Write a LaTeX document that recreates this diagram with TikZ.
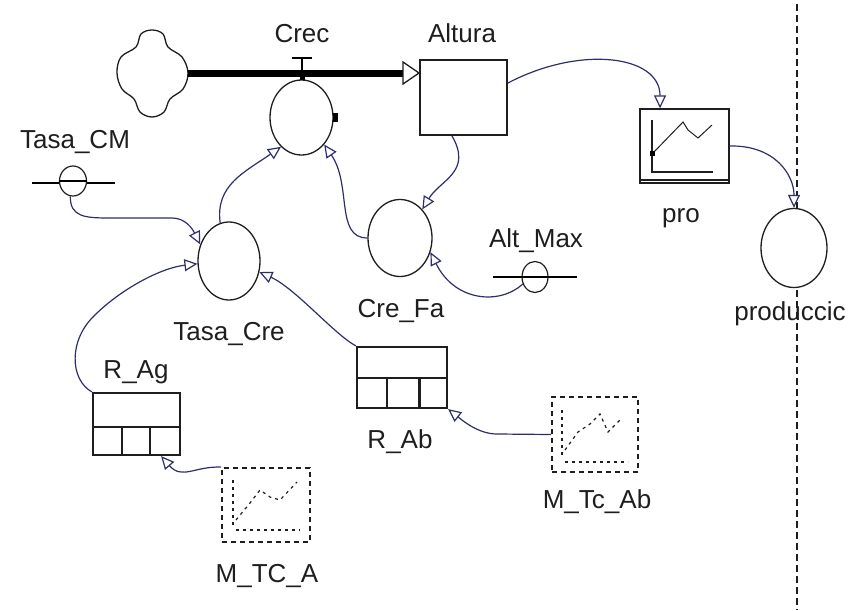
\documentclass[tikz,border=0pt]{standalone}
\usepackage{fontspec}
\setmainfont{Liberation Sans}
\usetikzlibrary{arrows.meta,shapes.geometric,calc}
\definecolor{navy}{HTML}{2E2E6E}
\definecolor{ink}{HTML}{1E1E1E}
\newcommand\labfont{\fontsize{26}{28}\selectfont}
\tikzset{
  lab/.style={font=\labfont, anchor=base, inner sep=0pt, text=ink},
  aux/.style={ellipse, draw=ink, line width=1.3pt, fill=white, inner sep=0pt},
  ghost/.style={ellipse, draw=ink, line width=1.2pt, fill=white, inner sep=0pt, minimum width=26pt, minimum height=31pt},
  stockbox/.style={rectangle, draw=ink, line width=1.3pt, fill=white, inner sep=0pt},
  tablebox/.style={rectangle, draw=ink, line width=2.2pt, fill=white, inner sep=0pt},
  graphbox/.style={rectangle, draw=ink, line width=1.8pt, fill=white, inner sep=0pt, dash pattern=on 5pt off 4pt},
  conn/.style={draw=navy, line width=1.2pt, -{Triangle[open,length=13pt,width=12pt,fill=white]}},
  inner/.style={draw=ink, line width=1.2pt, dash pattern=on 3pt off 4pt}
}
\begin{document}
\begin{tikzpicture}[x=1pt,y=-1pt]
\useasboundingbox (0,0) rectangle (848,610);
\fill[white] (0,0) rectangle (848,610);

% dotted vertical separator
\draw[ink, line width=2pt, dash pattern=on 7pt off 4pt] (797,4) -- (797,610);

% cloud (source)
\draw[ink, line width=1.3pt, fill=white] plot[smooth cycle, tension=0.6] coordinates {
 (152,30) (163,34) (168,47) (182,57) (188,73) (183,89) (170,99) (164,112) (152,117)
 (140,112) (134,99) (122,89) (117,73) (121,57) (136,47) (141,34)};
\coordinate (cloudR) at (188,73);

% stock Altura
\node[stockbox, minimum width=87pt, minimum height=75pt] (altura) at (463.5,97.5) {};

% flow pipe
\draw[black, line width=7pt] (cloudR) -- (403,73);
\draw[ink, line width=1.3pt, fill=white] (403,62) -- (419,73) -- (403,84) -- cycle;

% Crec converter with valve
\node[aux, minimum width=63pt, minimum height=75pt] (crec) at (301.5,117.5) {};
\draw[black, line width=1.6pt] (292,58) -- (312,58);
\draw[black, line width=1.6pt] (302,58) -- (302,73);
\draw[black, line width=5pt] (302,73) -- (302,80);
\fill[black] (333,113) rectangle (338,122);

% other converters
\node[aux, minimum width=62pt, minimum height=78pt] (tasacre) at (229,261) {};
\node[aux, minimum width=64pt, minimum height=77pt] (crefa) at (400,238) {};

% ghost symbols
\draw[black, line width=2.2pt] (32,183) -- (115,183);
\node[ghost, minimum width=27pt, minimum height=30pt] (tasacm) at (73,181) {};
\draw[black, line width=2.2pt] (tasacm.west) -- (tasacm.east);
\draw[black, line width=2.2pt] (493,277) -- (577,277);
\node[ghost] (altmax) at (535,277) {};
\draw[black, line width=2.2pt] (altmax.west) -- (altmax.east);

% graph pro
\node[stockbox, minimum width=89pt, minimum height=74pt] (pro) at (684.5,146) {};
\draw[ink, line width=1.3pt] (640,180) -- (729,180);
\draw[ink, line width=2.2pt] (652,120) -- (652,172) -- (713,172);
\draw[ink, line width=1pt] (653,153) -- (683,122) -- (688,130) -- (698,138) -- (712,125);
\fill[black] (650,151) rectangle (655,156);

% produccio
\node[aux, minimum width=66pt, minimum height=79pt] (prod) at (794,248) {};

% tables
\node[tablebox, minimum width=87pt, minimum height=62pt] (rag) at (136.5,424) {};
\draw[ink, line width=2.2pt] ($(rag.north west)!0.55!(rag.south west)$) -- ($(rag.north east)!0.55!(rag.south east)$);
\draw[ink, line width=2.2pt] ($(rag.south west)!0.333!(rag.south east)$) -- ++(0,-28);
\draw[ink, line width=2.2pt] ($(rag.south west)!0.655!(rag.south east)$) -- ++(0,-28);

\node[tablebox, minimum width=90pt, minimum height=61pt] (rab) at (402,377.5) {};
\draw[ink, line width=2.2pt] ($(rab.north west)!0.51!(rab.south west)$) -- ($(rab.north east)!0.51!(rab.south east)$);
\draw[ink, line width=2.2pt] ($(rab.south west)!0.333!(rab.south east)$) -- ++(0,-30);
\draw[ink, line width=2.2pt] ($(rab.south west)!0.69!(rab.south east)$) -- ++(0,-30);

% dashed graph boxes
\node[graphbox, minimum width=88pt, minimum height=74pt] (mtca) at (266,505) {};
\draw[inner] (233,480) -- (233,525);
\draw[inner] (236,530) -- (300,530);
\draw[inner] (236,520) -- (250,503) -- (260,490) -- (270,497) -- (280,500) -- (297,482);

\node[graphbox, minimum width=86pt, minimum height=75pt] (mtcab) at (595,434.5) {};
\draw[inner] (562,410) -- (562,455);
\draw[inner] (565,462) -- (628,462);
\draw[inner] (565,450) -- (578,432) -- (590,424) -- (600,414) -- (608,432) -- (622,418);

% connectors
\draw[conn] (altura.-107) .. controls (473,172) and (440,180) .. (crefa.52);
\draw[conn] (altura.18) .. controls (580,45) and (660,55) .. (pro.123);
\draw[conn] (pro.east) .. controls (775,145) and (794,175) .. (prod.north);
\draw[conn] (altmax.210) .. controls (500,305) and (455,302) .. (crefa.-25);
\draw[conn] (crefa.west) .. controls (335,238) and (352,185) .. (crec.-50);
\draw[conn] (tasacre.103) .. controls (215,185) and (245,172) .. (crec.-125);
\draw[conn] (tasacm.-100) .. controls (70,217) and (85,218) .. (110,218) -- (172,218) .. controls (185,218) and (192,228) .. (tasacre.150);
\draw[conn] (rag.north west) .. controls (70,380) and (68,340) .. (95,315) .. controls (120,290) and (160,268) .. (tasacre.185);
\draw[conn] (rab.north west) .. controls (335,335) and (295,288) .. (tasacre.-20);
\draw[conn] (mtca.north west) .. controls (195,466) and (182,480) .. ($(rag.south east)+(-20,0)$);
\draw[conn] (mtcab.west) -- (497,434) .. controls (478,434) and (462,420) .. (rab.south east);

% labels
\node[lab] (lcrec) at (302,42) {Crec};
\node[lab] (laltura) at (462,43) {Altura};
\node[lab] (ltasacm) at (75,148) {Tasa\_CM};
\node[lab] (ltasacre) at (229,340) {Tasa\_Cre};
\node[lab] (lrag) at (136,378) {R\_Ag};
\node[lab] (lcrefa) at (401,317) {Cre\_Fa};
\node[lab] (laltmax) at (536,247) {Alt\_Max};
\node[lab] (lrab) at (400,448) {R\_Ab};
\node[lab] (lmtcab) at (597,508) {M\_Tc\_Ab};
\node[lab] (lmtca) at (267,582) {M\_TC\_A};
\node[lab] (lpro) at (681,222) {pro};
\node[lab] (lprod) at (790,320) {produccic};
\end{tikzpicture}
\end{document}
